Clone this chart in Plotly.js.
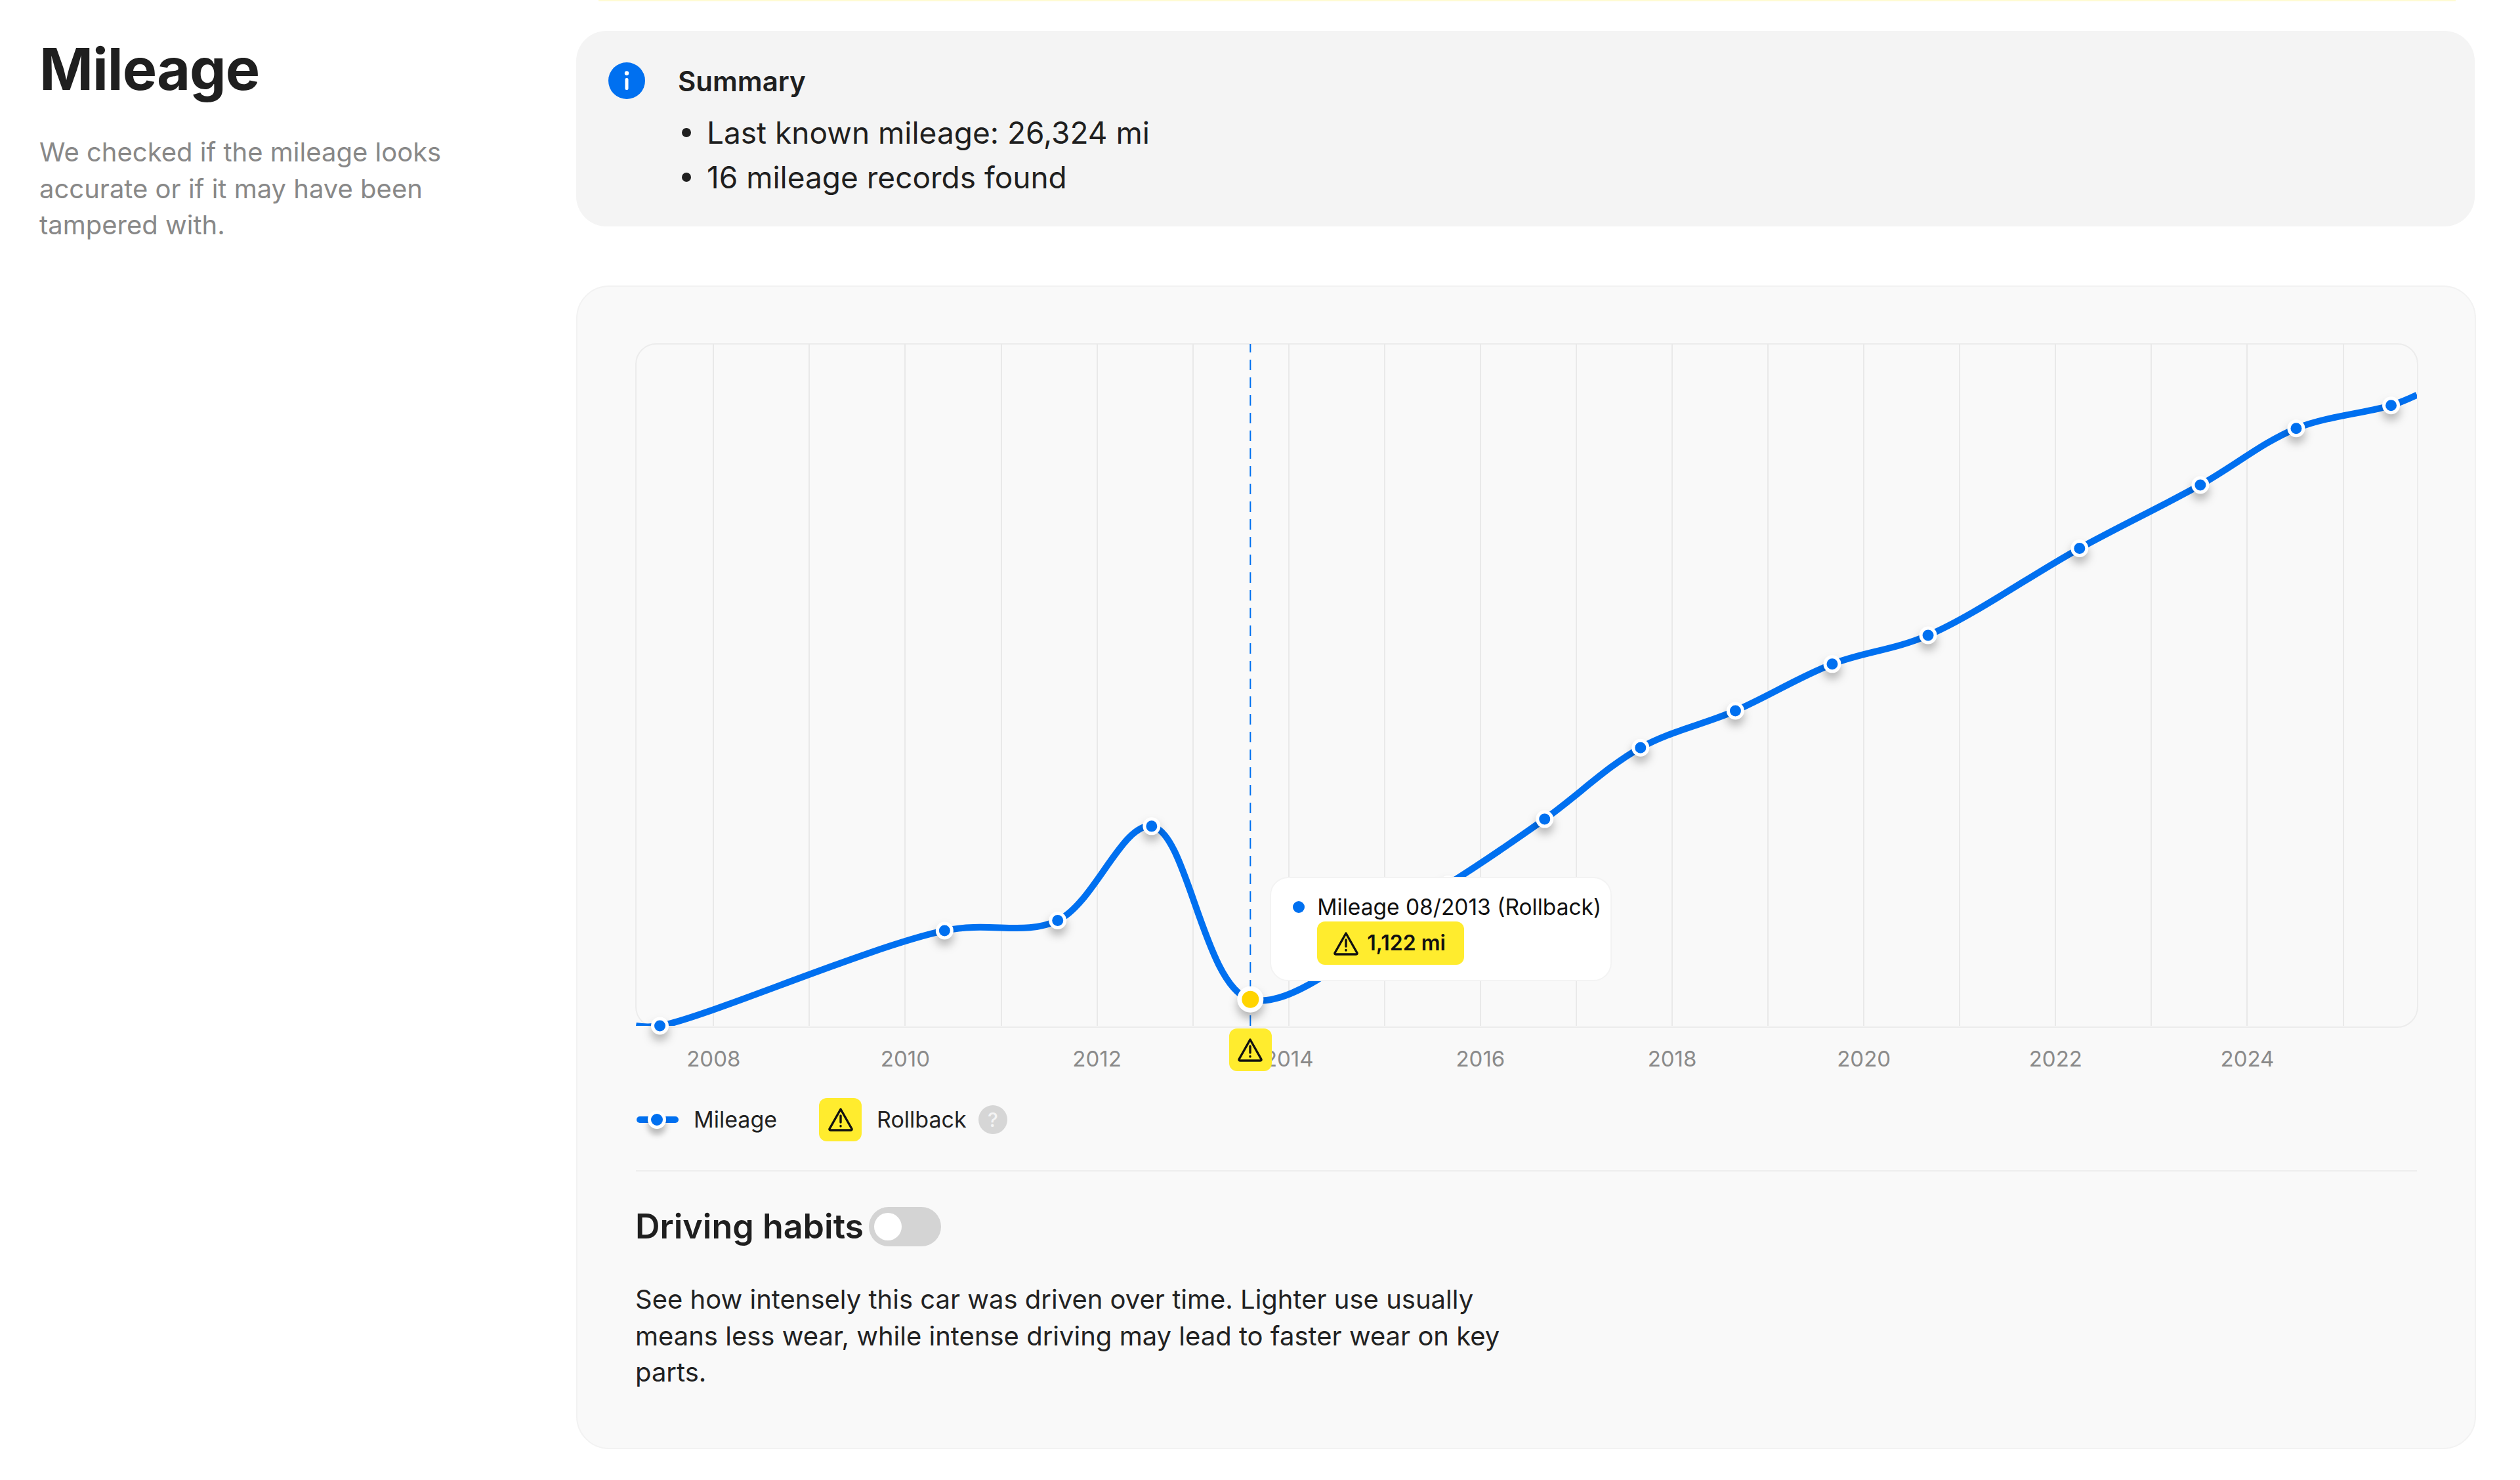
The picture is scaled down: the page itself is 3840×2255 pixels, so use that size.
<!DOCTYPE html>
<html><head><meta charset="utf-8">
<script src="https://cdn.plot.ly/plotly-3.0.1.min.js"></script>
<style>
html,body{margin:0;padding:0;background:#fff;width:3840px;height:2255px;overflow:hidden;font-family:Inter,"Noto Sans",sans-serif;color:#1f1f1f}
.a{position:absolute;white-space:nowrap}
#chart{position:absolute;left:0;top:0;width:3840px;height:2255px;z-index:2}
.points path{filter:drop-shadow(0 9px 7px rgba(0,0,0,.28))}
.over{z-index:3}
.badge{background:#FFEC2E;border-radius:12px;display:flex;align-items:center;justify-content:center}
</style></head><body>
<div class="a" style="left:912px;top:0;width:2830px;height:2px;background:#fffbd2"></div>
<div class="a" style="left:60px;top:52px;font-size:88px;font-weight:700;line-height:106px;letter-spacing:-1px">Mileage</div>
<div class="a" style="left:60px;top:204px;font-size:40px;line-height:55.5px;color:#888">We checked if the mileage looks<br>accurate or if it may have been<br>tampered with.</div>

<div class="a" style="left:878px;top:47px;width:2893px;height:298px;border-radius:46px;background:#f4f4f4"></div>
<svg class="a" style="left:927px;top:95px" width="56" height="56" viewBox="0 0 56 56"><circle cx="28" cy="28" r="28" fill="#0070F0"/><circle cx="28" cy="16.5" r="3.2" fill="#fff"/><rect x="25.5" y="24" width="5" height="18" rx="2" fill="#fff"/></svg>
<div class="a" style="left:1033px;top:98px;font-size:42px;font-weight:600;line-height:51px">Summary</div>
<div class="a" style="left:1039px;top:195px;width:14px;height:14px;border-radius:50%;background:#1f1f1f"></div>
<div class="a" style="left:1077px;top:172px;font-size:46px;line-height:60px">Last known mileage: 26,324 mi</div>
<div class="a" style="left:1039px;top:263px;width:14px;height:14px;border-radius:50%;background:#1f1f1f"></div>
<div class="a" style="left:1077px;top:240px;font-size:46px;line-height:60px">16 mileage records found</div>

<div class="a" style="left:878px;top:435px;width:2891px;height:1769px;border-radius:50px;background:#f9f9f9;border:2px solid #f2f2f2"></div>
<div class="a" style="left:968px;top:523px;width:2713px;height:1039px;border-radius:32px;border:2px solid #ececec"></div>
<div id="chart"></div>

<div id="axisBadge" class="a badge over" style="width:65px;height:65px"><svg width="42" height="42" viewBox="0 0 42 42"><use href="#warn"/></svg></div>

<div id="tip" class="a over" style="width:521px;height:159px;background:#fff;border:2px solid #f3f3f3;box-sizing:border-box;border-radius:28px">
 <div class="a" style="left:33px;top:35px;width:18px;height:18px;border-radius:50%;background:#0070F0"></div>
 <div class="a" style="left:70px;top:22px;font-size:33.5px;line-height:44px;color:#111">Mileage 08/2013 (Rollback)</div>
 <div class="a badge" style="left:70px;top:66px;width:224px;height:66px"></div>
 <svg class="a" style="left:93px;top:79px" width="42" height="42" viewBox="0 0 42 42"><use href="#warn"/></svg>
 <div class="a" style="left:146px;top:78px;font-size:32px;line-height:42px;font-weight:600;color:#111">1,122 mi</div>
</div>

<div class="a over" style="left:970px;top:1701px;width:64px;height:10px;border-radius:5px;background:#0070F0"></div>
<div class="a over" style="left:987px;top:1692px;width:18px;height:18px;border-radius:50%;background:#0070F0;border:5px solid #fff;box-shadow:0 9px 9px rgba(0,0,0,.25)"></div>
<div class="a over" style="left:1057px;top:1684px;font-size:34px;line-height:44px;color:#222">Mileage</div>
<div class="a badge over" style="left:1248px;top:1673px;width:65px;height:66px"><svg width="42" height="42" viewBox="0 0 42 42"><use href="#warn"/></svg></div>
<div class="a over" style="left:1336px;top:1684px;font-size:34px;line-height:44px;color:#222">Rollback</div>
<div class="a over" style="left:1491px;top:1684px;width:44px;height:44px;border-radius:50%;background:#d6d6d6;color:#f4f4f4;font-size:30px;line-height:44px;text-align:center;font-weight:500">?</div>

<div class="a" style="left:969px;top:1783px;width:2714px;height:2px;background:#eeeeee"></div>
<div class="a" style="left:968px;top:1838px;font-size:52px;font-weight:600;line-height:62px">Driving habits</div>
<div class="a" style="left:1324px;top:1839px;width:110px;height:60px;border-radius:30px;background:#d4d4d4"></div>
<div class="a" style="left:1332px;top:1848px;width:42px;height:42px;border-radius:50%;background:#fff"></div>
<div class="a" style="left:968px;top:1952px;font-size:40px;line-height:55.5px;color:#222">See how intensely this car was driven over time. Lighter use usually<br>means less wear, while intense driving may lead to faster wear on key<br>parts.</div>

<svg width="0" height="0" style="position:absolute"><defs><g id="warn" fill="none" stroke="#111" stroke-width="3.4" stroke-linejoin="round" stroke-linecap="round"><path d="M21 5 L38 35 Q38.5 37 36 37 L6 37 Q3.5 37 4 35 Z"/><path d="M21 15 V25"/><path d="M21 30.5 V31"/></g></defs></svg>

<script>
// Dates as decimal years, mileage in miles
const recordYears   = [2007.44,2010.41,2011.59,2012.57,2013.60,2015.66,2016.67,2017.67,2018.66,2019.67,2020.67,2022.25,2023.51,2024.51,2025.50];
const recordMileage = [0,4040,4470,8470,1122,6000,8770,11800,13370,15350,16570,20260,22950,25350,26324];
const lineStartYear = 2007.19, lineStartMileage = 0;
const lineEndYear = 2025.77, lineEndMileage = 26770;
const rollbackYear = 2013.60, rollbackMileage = 1122;
const gridYears = [2008,2009,2010,2011,2012,2013,2014,2015,2016,2017,2018,2019,2020,2021,2022,2023,2024,2025];
const tickLabels = ['2008','','2010','','2012','','2014','','2016','','2018','','2020','','2022','','2024',''];
const BLUE = '#0070F0', YELLOW = '#FFD400';

const normal = recordYears.map((y,i)=>i).filter(i=>recordYears[i]!==rollbackYear);
const traces = [
 {type:'scatter',mode:'lines',x:[lineStartYear,...recordYears,lineEndYear],y:[lineStartMileage,...recordMileage,lineEndMileage],
  line:{color:BLUE,width:10,shape:'spline',smoothing:1},hoverinfo:'skip',cliponaxis:true,showlegend:false},
 {type:'scatter',mode:'markers',x:normal.map(i=>recordYears[i]),y:normal.map(i=>recordMileage[i]),
  marker:{color:BLUE,size:22,line:{color:'#fff',width:5}},cliponaxis:false,showlegend:false,hoverinfo:'skip'},
 {type:'scatter',mode:'markers',x:[rollbackYear],y:[rollbackMileage],
  marker:{color:YELLOW,size:33,line:{color:'#fff',width:7}},cliponaxis:false,showlegend:false,hoverinfo:'skip'}
];
const layout = {
 width:3840,height:2255,margin:{l:969,r:157,t:524,b:692,pad:0},
 paper_bgcolor:'rgba(0,0,0,0)',plot_bgcolor:'rgba(0,0,0,0)',showlegend:false,
 font:{family:'Inter, sans-serif'},
 xaxis:{range:[lineStartYear,lineEndYear],tickmode:'array',tickvals:gridYears,ticktext:tickLabels,ticks:'',
  showgrid:true,gridcolor:'#e9e9e9',gridwidth:2,zeroline:false,showline:false,fixedrange:true,
  tickfont:{family:'Inter, sans-serif',size:33,color:'#8a8a8a'},ticklabelstandoff:28},
 yaxis:{range:[0,28936],showgrid:false,zeroline:false,showticklabels:false,showline:false,ticks:'',fixedrange:true},
 shapes:[{type:'line',xref:'x',yref:'paper',x0:rollbackYear,x1:rollbackYear,y0:0,y1:1,layer:'below',
   line:{color:BLUE,width:2,dash:'16px,11px'}}]
};
Plotly.newPlot('chart',traces,layout,{displayModeBar:false,staticPlot:true}).then(gd=>{
 const xa=gd._fullLayout.xaxis, ya=gd._fullLayout.yaxis;
 const px=xa._offset+xa.d2p(rollbackYear), py=ya._offset+ya.d2p(rollbackMileage);
 const b=document.getElementById('axisBadge');
 b.style.left=(px-32.5)+'px'; b.style.top=(ya._offset+ya._length+4)+'px';
 const t=document.getElementById('tip');
 t.style.left=(px+30)+'px'; t.style.top=(py-187)+'px';
});
</script>
</body></html>
